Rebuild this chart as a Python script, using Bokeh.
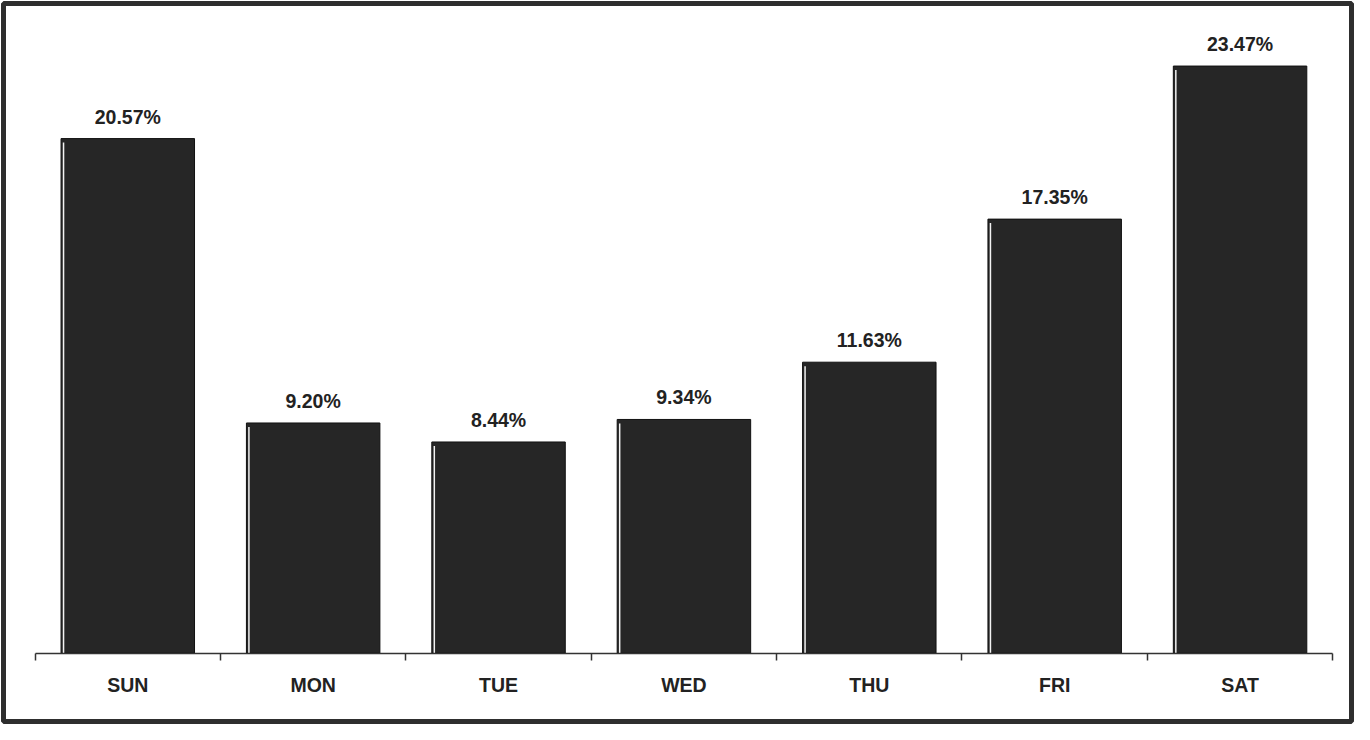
from bokeh.plotting import figure
from bokeh.models import Range1d, LinearAxis, FixedTicker
from bokeh.core.properties import value
from bokeh.embed import file_html
from bokeh.resources import INLINE

days = ["SUN", "MON", "TUE", "WED", "THU", "FRI", "SAT"]
shares = [20.57, 9.20, 8.44, 9.34, 11.63, 17.35, 23.47]
share_labels = ["20.57%", "9.20%", "8.44%", "9.34%", "11.63%", "17.35%", "23.47%"]

n = len(days)
centers = [i + 0.5 for i in range(n)]
bounds_ticks = list(range(n + 1))

W, H = 1354, 724
sx, sy = W / 1370, H / 740
mb = 3
frame_w = W - 2 * mb
frame_h = H - 2 * mb
ax_left, ax_right = 35 * sx, 1348 * sx
zero_y, top_y = 667 * sy, 67 * sy
px_per_unit = (ax_right - ax_left) / n
x_start = (mb - ax_left) / px_per_unit
x_end = x_start + frame_w / px_per_unit
px_per_pct = (zero_y - top_y) / max(shares)
y_end = (zero_y - mb) / px_per_pct
y_start = y_end - frame_h / px_per_pct

bar_w = 0.72
hl = 2.5 / px_per_unit  # highlight inset
hl_top = 4 / px_per_pct

FONT = "Liberation Sans"

p = figure(width=W, height=H, output_backend="svg", toolbar_location=None,
           x_range=Range1d(x_start, x_end), y_range=Range1d(y_start, y_end),
           min_border_left=mb, min_border_right=mb, min_border_top=mb, min_border_bottom=mb,
           x_axis_type=None, y_axis_type=None)
p.grid.visible = False
p.background_fill_color = "white"
p.border_fill_color = "white"
p.outline_line_color = "#2e2e2e"
p.outline_line_width = 5

p.vbar(x=centers, top=shares, bottom=0, width=bar_w,
       fill_color="#262626", line_color="#111111", line_width=1)

p.segment(x0=[c - bar_w / 2 + hl for c in centers], y0=[0] * n,
          x1=[c - bar_w / 2 + hl for c in centers], y1=[s - hl_top for s in shares],
          line_color="#f2f2f2", line_width=1.5)

p.text(x=centers, y=shares, text=share_labels, text_align="center",
       text_baseline="middle", y_offset=-22,
       text_font=value(FONT), text_font_style="bold", text_font_size="19.5px",
       text_color="#222222")

# axis line with boundary ticks
tick_axis = LinearAxis(ticker=FixedTicker(ticks=bounds_ticks), fixed_location=0,
                       bounds=(0, n))
tick_axis.axis_line_color = "#333333"
tick_axis.axis_line_width = 1.5
tick_axis.major_tick_line_color = "#333333"
tick_axis.major_tick_line_width = 1.5
tick_axis.major_tick_out = 7
tick_axis.major_tick_in = 0
tick_axis.minor_tick_line_color = None
tick_axis.major_label_text_font_size = "0px"
tick_axis.major_label_text_alpha = 0
p.add_layout(tick_axis, "below")

# day labels
label_axis = LinearAxis(ticker=FixedTicker(ticks=centers), fixed_location=0,
                        major_label_overrides={c: d for c, d in zip(centers, days)})
label_axis.axis_line_color = None
label_axis.major_tick_line_color = None
label_axis.minor_tick_line_color = None
label_axis.major_label_standoff = 15
label_axis.major_label_text_font = FONT
label_axis.major_label_text_font_style = "bold"
label_axis.major_label_text_font_size = "19.5px"
label_axis.major_label_text_color = "#222222"
p.add_layout(label_axis, "below")

open("out.html", "w").write(file_html(p, INLINE))
